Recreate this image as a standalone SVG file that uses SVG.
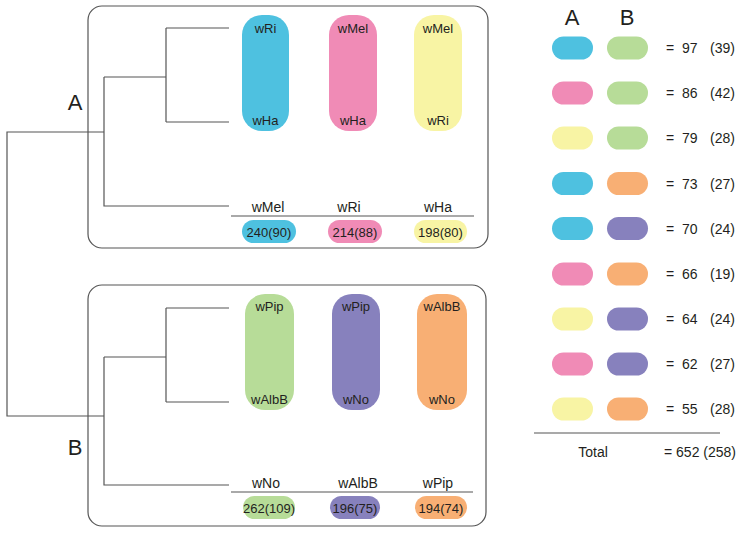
<svg xmlns="http://www.w3.org/2000/svg" width="743" height="533" viewBox="0 0 743 533">
<style>
.box{fill:none;stroke:#555;stroke-width:1.2}
.ln{fill:none;stroke:#555;stroke-width:1.2}
text{font-family:"Liberation Sans",Arial,sans-serif;fill:#231f20}
.big{font-size:22px}
.lbl{font-size:13px;text-anchor:middle}
.col{font-size:14px;text-anchor:middle}
.num{font-size:14px}
.c{fill:#4ec1e0}.p{fill:#f08bb6}.y{fill:#f8f4a4}.g{fill:#b7dc98}.v{fill:#8781bd}.o{fill:#f8af74}
</style>
<rect width="743" height="533" fill="#fff"/>
<g id="boxA"><rect class="box" x="88" y="6" width="400" height="242" rx="14"/></g>
<g id="boxB"><rect class="box" x="88" y="285" width="398" height="241" rx="14"/></g>
<g id="connectors">
<path class="ln" d="M104,132 H7 V416 H104"/>
<path class="ln" d="M104,77 V206 H229 M104,77 H166 M166,28 V122 M166,28 H229 M166,122 H229"/>
<path class="ln" d="M104,357 V485 H229 M104,357 H166 M166,308 V402 M166,308 H229 M166,402 H229"/>
<path class="ln" d="M231,216 H474 M231,492 H473 M534,433 H720"/>
</g>
<text class="big" x="75" y="110" text-anchor="middle">A</text>
<text class="big" x="75" y="455" text-anchor="middle">B</text>
<g id="pillsA">
<rect class="c" x="242" y="15" width="47" height="116" rx="20"/>
<rect class="p" x="329" y="15" width="48" height="116" rx="20"/>
<rect class="y" x="414" y="15" width="48" height="116" rx="20"/>
<text class="lbl" x="265.5" y="33">wRi</text><text class="lbl" x="265.5" y="125">wHa</text>
<text class="lbl" x="353" y="33">wMel</text><text class="lbl" x="353" y="125">wHa</text>
<text class="lbl" x="438" y="33">wMel</text><text class="lbl" x="438" y="125">wRi</text>
</g>
<g id="countsA">
<text class="col" x="268" y="212">wMel</text><text class="col" x="349" y="212">wRi</text><text class="col" x="438" y="212">wHa</text>
<rect class="c" x="242" y="220" width="54" height="23" rx="11.5"/>
<rect class="p" x="328" y="220" width="54" height="23" rx="11.5"/>
<rect class="y" x="414" y="220" width="53" height="23" rx="11.5"/>
<text class="lbl" x="269" y="236.5">240(90)</text><text class="lbl" x="355" y="236.5">214(88)</text><text class="lbl" x="440.5" y="236.5">198(80)</text>
</g>
<g id="pillsB">
<rect class="g" x="245" y="294" width="49" height="116" rx="20"/>
<rect class="v" x="332" y="294" width="48" height="116" rx="20"/>
<rect class="o" x="417" y="294" width="50" height="116" rx="20"/>
<text class="lbl" x="269.5" y="311">wPip</text><text class="lbl" x="269.5" y="404">wAlbB</text>
<text class="lbl" x="356" y="311">wPip</text><text class="lbl" x="356" y="404">wNo</text>
<text class="lbl" x="442" y="311">wAlbB</text><text class="lbl" x="442" y="404">wNo</text>
</g>
<g id="countsB">
<text class="col" x="266" y="488">wNo</text><text class="col" x="358" y="488">wAlbB</text><text class="col" x="438" y="488">wPip</text>
<rect class="g" x="243" y="496" width="52" height="23" rx="11.5"/>
<rect class="v" x="330" y="496" width="50" height="23" rx="11.5"/>
<rect class="o" x="415" y="496" width="52" height="23" rx="11.5"/>
<text class="lbl" x="269" y="512.5">262(109)</text><text class="lbl" x="355" y="512.5">196(75)</text><text class="lbl" x="441" y="512.5">194(74)</text>
</g>
<g id="legend">
<text class="big" x="572" y="25" text-anchor="middle">A</text>
<text class="big" x="627" y="25" text-anchor="middle">B</text>
<g id="r1"><rect class="c" x="552" y="36.5" width="41" height="23" rx="11.5"/><rect class="g" x="607" y="36.5" width="41" height="23" rx="11.5"/><text class="num" x="666" y="53">=</text><text class="num" x="682" y="53">97</text><text class="num" x="710" y="53">(39)</text></g>
<g id="r2"><rect class="p" x="552" y="81.5" width="41" height="23" rx="11.5"/><rect class="g" x="607" y="81.5" width="41" height="23" rx="11.5"/><text class="num" x="666" y="98">=</text><text class="num" x="682" y="98">86</text><text class="num" x="710" y="98">(42)</text></g>
<g id="r3"><rect class="y" x="552" y="126.5" width="41" height="23" rx="11.5"/><rect class="g" x="607" y="126.5" width="41" height="23" rx="11.5"/><text class="num" x="666" y="143">=</text><text class="num" x="682" y="143">79</text><text class="num" x="710" y="143">(28)</text></g>
<g id="r4"><rect class="c" x="552" y="172" width="41" height="23" rx="11.5"/><rect class="o" x="607" y="172" width="41" height="23" rx="11.5"/><text class="num" x="666" y="188.5">=</text><text class="num" x="682" y="188.5">73</text><text class="num" x="710" y="188.5">(27)</text></g>
<g id="r5"><rect class="c" x="552" y="217" width="41" height="23" rx="11.5"/><rect class="v" x="607" y="217" width="41" height="23" rx="11.5"/><text class="num" x="666" y="233.5">=</text><text class="num" x="682" y="233.5">70</text><text class="num" x="710" y="233.5">(24)</text></g>
<g id="r6"><rect class="p" x="552" y="262.5" width="41" height="23" rx="11.5"/><rect class="o" x="607" y="262.5" width="41" height="23" rx="11.5"/><text class="num" x="666" y="279">=</text><text class="num" x="682" y="279">66</text><text class="num" x="710" y="279">(19)</text></g>
<g id="r7"><rect class="y" x="552" y="307.5" width="41" height="23" rx="11.5"/><rect class="v" x="607" y="307.5" width="41" height="23" rx="11.5"/><text class="num" x="666" y="324">=</text><text class="num" x="682" y="324">64</text><text class="num" x="710" y="324">(24)</text></g>
<g id="r8"><rect class="p" x="552" y="352.5" width="41" height="23" rx="11.5"/><rect class="v" x="607" y="352.5" width="41" height="23" rx="11.5"/><text class="num" x="666" y="369">=</text><text class="num" x="682" y="369">62</text><text class="num" x="710" y="369">(27)</text></g>
<g id="r9"><rect class="y" x="552" y="397.5" width="41" height="23" rx="11.5"/><rect class="o" x="607" y="397.5" width="41" height="23" rx="11.5"/><text class="num" x="666" y="414">=</text><text class="num" x="682" y="414">55</text><text class="num" x="710" y="414">(28)</text></g>
<text class="num" x="593" y="457" text-anchor="middle">Total</text>
<text class="num" x="664" y="457">= 652 (258)</text>
</g>
</svg>
